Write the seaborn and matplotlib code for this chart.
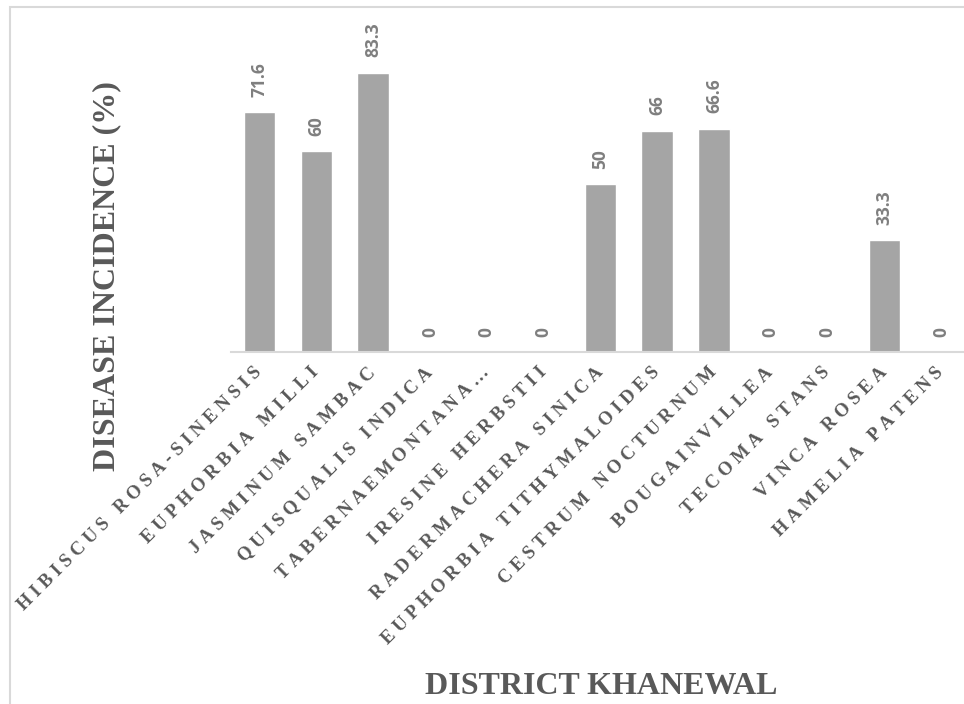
import matplotlib
matplotlib.use("Agg")
import matplotlib.pyplot as plt
import matplotlib.patches as mpatches
import seaborn as sns
import pandas as pd

# Plant species surveyed and their disease incidence (%)
species = [
    "HIBISCUS ROSA-SINENSIS", "EUPHORBIA MILLI", "JASMINUM SAMBAC",
    "QUISQUALIS INDICA", "TABERNAEMONTANA…", "IRESINE HERBSTII",
    "RADERMACHERA SINICA", "EUPHORBIA TITHYMALOIDES", "CESTRUM NOCTURNUM",
    "BOUGAINVILLEA", "TECOMA STANS", "VINCA ROSEA", "HAMELIA PATENS",
]
incidence = [71.6, 60, 83.3, 0, 0, 0, 50, 66, 66.6, 0, 0, 33.3, 0]

x_title = "DISTRICT KHANEWAL"
y_title = "DISEASE INCIDENCE (%)"

df = pd.DataFrame({"species": species, "incidence": incidence})

sns.set_theme(style="white")
serif = ["Liberation Serif", "DejaVu Serif"]
label_grey = "#595959"

fig = plt.figure(figsize=(9.64, 7.04), dpi=100)
ax = fig.add_axes([231.1 / 964, 0.5, 738.4 / 964, 301.7 / 704])

sns.barplot(data=df, x="species", y="incidence", color="#a5a5a5",
            width=0.55, saturation=1, ax=ax)

ax.set_ylim(0, 90)
ax.set_yticks([])
ax.set_xlabel("")
ax.set_ylabel("")
for side in ("top", "right", "left"):
    ax.spines[side].set_visible(False)
ax.spines["bottom"].set_color("#d9d9d9")
ax.spines["bottom"].set_linewidth(1.5)

# Value labels above each bar
ax.bar_label(ax.containers[0], labels=[f"{v:g}" for v in incidence],
             rotation=90, padding=11, fontsize=12.5, fontweight="bold",
             family="Open Sans", color="#7f7f7f", clip_on=False)

# Category labels, letter-spaced, rotated 45 degrees
spaced = ["\u2005".join(list(s)) for s in species]
ax.set_xticks(range(len(species)))
ax.set_xticklabels(spaced, rotation=45, ha="right", va="center",
                   rotation_mode="anchor", family=serif, fontweight="bold",
                   fontsize=13.5, color=label_grey)
ax.tick_params(axis="x", length=0, pad=13)

fig.text(107 / 964, 1 - 276 / 704, y_title, rotation=90, ha="center",
         va="center", family=serif, fontweight="bold", fontsize=23,
         color=label_grey)
fig.text(601.5 / 964, 1 - 686 / 704, x_title, ha="center", va="center",
         family=serif, fontweight="bold", fontsize=23, color=label_grey)

# Light chart-area border
fig.patches.append(mpatches.Rectangle(
    (10 / 964, -0.05), 1.2, 1.05 - 7 / 704, transform=fig.transFigure,
    fill=False, edgecolor="#d9d9d9", linewidth=1.5))

fig.savefig("out.png", dpi=100)
